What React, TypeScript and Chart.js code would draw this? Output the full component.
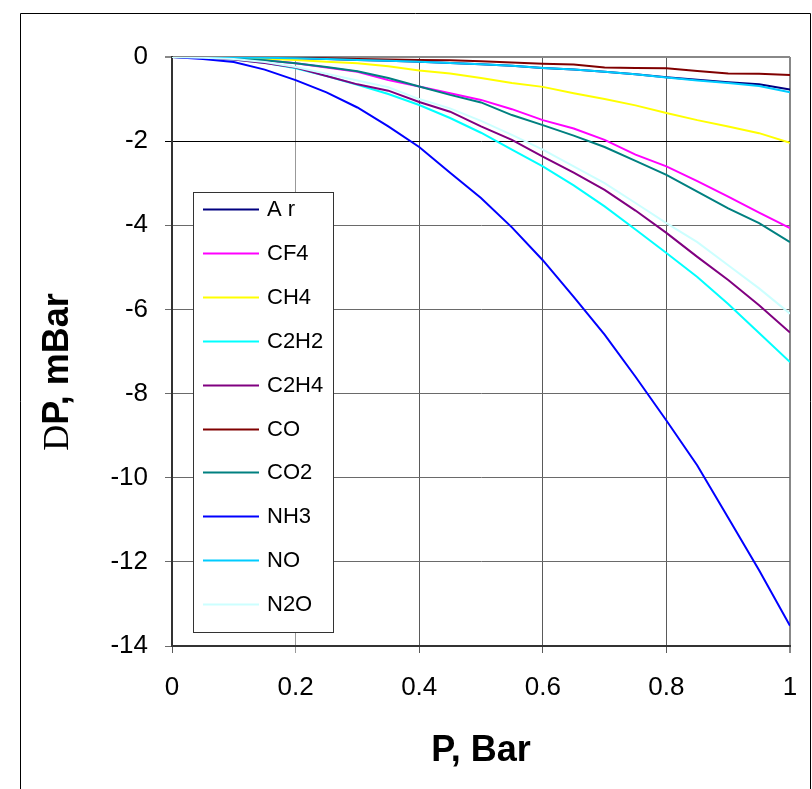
import React, { useEffect, useRef } from 'react';
import { Chart, registerables } from 'chart.js';

Chart.register(...registerables);

// ---- Data ----
const pressures = [0, 0.05, 0.1, 0.15, 0.2, 0.25, 0.3, 0.35, 0.4, 0.45, 0.5, 0.55, 0.6, 0.65, 0.7, 0.75, 0.8, 0.85, 0.9, 0.95, 1.0];

const seriesNames = ['A r', 'CF4', 'CH4', 'C2H2', 'C2H4', 'CO', 'CO2', 'NH3', 'NO', 'N2O'];
const seriesColors = ['#000080', '#FF00FF', '#FFFF00', '#00FFFF', '#800080', '#800000', '#008080', '#0000FF', '#00CCFF', '#CCFFFF'];

const ar = [0, 0, -0.01, -0.02, -0.03, -0.05, -0.07, -0.09, -0.11, -0.14, -0.17, -0.21, -0.26, -0.3, -0.35, -0.41, -0.48, -0.54, -0.6, -0.65, -0.77];
const cf4 = [0, -0.01, -0.03, -0.08, -0.15, -0.25, -0.35, -0.55, -0.7, -0.86, -1.02, -1.24, -1.5, -1.7, -1.97, -2.32, -2.6, -2.95, -3.32, -3.7, -4.07];
const ch4 = [0, -0.01, -0.02, -0.04, -0.07, -0.11, -0.15, -0.22, -0.32, -0.39, -0.5, -0.62, -0.71, -0.86, -1.0, -1.15, -1.33, -1.5, -1.65, -1.81, -2.04];
const c2h2 = [0, -0.02, -0.06, -0.14, -0.27, -0.45, -0.66, -0.88, -1.14, -1.45, -1.8, -2.2, -2.6, -3.05, -3.55, -4.1, -4.66, -5.23, -5.87, -6.56, -7.25];
const c2h4 = [0, -0.02, -0.06, -0.14, -0.25, -0.45, -0.65, -0.8, -1.07, -1.3, -1.65, -1.97, -2.37, -2.75, -3.16, -3.65, -4.18, -4.75, -5.3, -5.9, -6.55];
const co = [0, 0, 0, 0, -0.01, -0.03, -0.05, -0.06, -0.07, -0.08, -0.1, -0.13, -0.16, -0.18, -0.25, -0.26, -0.27, -0.33, -0.39, -0.4, -0.43];
const co2 = [0, -0.01, -0.03, -0.08, -0.15, -0.24, -0.34, -0.5, -0.7, -0.9, -1.08, -1.38, -1.62, -1.87, -2.14, -2.47, -2.8, -3.2, -3.6, -3.95, -4.4];
const nh3 = [0, -0.05, -0.12, -0.3, -0.55, -0.84, -1.2, -1.65, -2.14, -2.75, -3.35, -4.05, -4.83, -5.7, -6.6, -7.6, -8.64, -9.71, -10.95, -12.2, -13.52];
const no = [0, 0, -0.01, -0.02, -0.03, -0.05, -0.07, -0.09, -0.11, -0.14, -0.17, -0.21, -0.26, -0.3, -0.35, -0.41, -0.49, -0.56, -0.62, -0.69, -0.84];
const n2o = [0, -0.02, -0.05, -0.12, -0.24, -0.4, -0.56, -0.72, -1.0, -1.22, -1.52, -1.85, -2.2, -2.6, -3.0, -3.47, -3.95, -4.4, -4.95, -5.5, -6.1];

const seriesValues = [ar, cf4, ch4, c2h2, c2h4, co, co2, nh3, no, n2o];

const xTickLabels = ['0', '0.2', '0.4', '0.6', '0.8', '1'];
const yTickLabels = ['-14', '-12', '-10', '-8', '-6', '-4', '-2', '0'];

const xTitle = 'P, Bar';
const yTitleSymbol = 'D';
const yTitleRest = 'P, mBar';

const FONT = "'Liberation Sans', Arial, sans-serif";
const SERIF = "'Liberation Serif', 'Times New Roman', serif";

const framePlugin = {
  id: 'frame',
  beforeDraw(chart: any) {
    const { ctx, width, height } = chart;
    ctx.save();
    ctx.fillStyle = '#ffffff';
    ctx.fillRect(0, 0, width, height);
    ctx.strokeStyle = '#000000';
    ctx.lineWidth = 1;
    ctx.beginPath();
    ctx.moveTo(20.5, height + 5);
    ctx.lineTo(20.5, 13.5);
    ctx.lineTo(810.5, 13.5);
    ctx.lineTo(810.5, height + 5);
    ctx.stroke();
    ctx.restore();
  },
};

const yTitlePlugin = {
  id: 'yTitle',
  afterDraw(chart: any) {
    const { ctx } = chart;
    ctx.save();
    ctx.translate(58, 372);
    ctx.rotate(-Math.PI / 2);
    ctx.textBaseline = 'middle';
    ctx.textAlign = 'left';
    const symFont = `36px ${SERIF}`;
    const restFont = `bold 36px ${FONT}`;
    ctx.font = symFont;
    const w1 = ctx.measureText(yTitleSymbol).width;
    ctx.font = restFont;
    const w2 = ctx.measureText(yTitleRest).width;
    const start = -(w1 + w2) / 2;
    ctx.fillStyle = '#000000';
    ctx.font = symFont;
    ctx.fillText(yTitleSymbol, start, 1);
    ctx.font = restFont;
    ctx.fillText(yTitleRest, start + w1, 0);
    ctx.restore();
  },
};

const legendPlugin = {
  id: 'boxLegend',
  afterDraw(chart: any) {
    const { ctx, chartArea } = chart;
    const left = chartArea.left + 21;
    const top = chartArea.top + 135;
    const w = 140;
    const h = 440;
    ctx.save();
    ctx.fillStyle = '#ffffff';
    ctx.fillRect(left, top, w, h);
    ctx.strokeStyle = '#333333';
    ctx.lineWidth = 1;
    ctx.strokeRect(left + 0.5, top + 0.5, w, h);
    ctx.font = `22px ${FONT}`;
    ctx.textBaseline = 'middle';
    ctx.textAlign = 'left';
    chart.data.datasets.forEach((ds: any, i: number) => {
      const y = top + 17 + i * 43.9;
      ctx.strokeStyle = ds.borderColor;
      ctx.lineWidth = 2;
      ctx.beginPath();
      ctx.moveTo(left + 10, Math.round(y) + 0.5);
      ctx.lineTo(left + 66, Math.round(y) + 0.5);
      ctx.stroke();
      ctx.fillStyle = '#000000';
      ctx.fillText(ds.label, left + 74, y + 1);
    });
    ctx.restore();
  },
};

export default function App() {
  const canvasRef = useRef<HTMLCanvasElement | null>(null);

  useEffect(() => {
    const canvas = canvasRef.current;
    if (!canvas) return;
    const n = seriesNames.length;
    const datasets = seriesNames.map((name, i) => ({
      label: name,
      data: pressures.map((p, j) => ({ x: p, y: seriesValues[i][j] })),
      borderColor: seriesColors[i],
      backgroundColor: seriesColors[i],
      borderWidth: 2,
      pointRadius: 0,
      tension: 0,
      fill: false,
      order: n - i,
    }));

    const chart = new Chart(canvas, {
      type: 'line',
      data: { datasets },
      plugins: [framePlugin, legendPlugin, yTitlePlugin],
      options: {
        animation: false,
        responsive: false,
        maintainAspectRatio: false,
        layout: { padding: { left: 0, top: 57, right: 22, bottom: 0 } },
        plugins: {
          legend: { display: false },
          tooltip: { enabled: false },
          title: { display: false },
        },
        scales: {
          x: {
            type: 'linear',
            min: 0,
            max: 1,
            afterFit: (scale: any) => {
              scale.height = 143;
              scale.paddingLeft = 0;
              scale.paddingRight = 0;
            },
            afterBuildTicks: (scale: any) => {
              scale.ticks = xTickLabels.map((t) => ({ value: parseFloat(t) }));
            },
            ticks: {
              callback: (_v: any, i: number) => xTickLabels[i],
              color: '#000000',
              font: { family: FONT, size: 26 },
              padding: 19,
              maxRotation: 0,
              autoSkip: false,
            },
            grid: {
              color: (c: any) => {
                const v = c.tick ? c.tick.value : 0;
                if (Math.abs(v - 1) < 1e-6) return '#888888';
                if (Math.abs(v - 0.2) < 1e-6) return '#999999';
                return '#5a5a5a';
              },
              lineWidth: (c: any) => {
                const v = c.tick ? c.tick.value : 0;
                return Math.abs(v - 1) < 1e-6 ? 2 : 1;
              },
              tickLength: 7,
              drawTicks: true,
            },
            border: { display: true, color: '#333333', width: 2 },
            title: {
              display: true,
              text: xTitle,
              color: '#000000',
              font: { family: FONT, size: 36, weight: 'bold' },
              padding: { top: 0, bottom: 16 },
            },
          },
          y: {
            type: 'linear',
            min: -14,
            max: 0,
            afterFit: (scale: any) => { scale.width = 172; },
            afterBuildTicks: (scale: any) => {
              scale.ticks = yTickLabels.map((t) => ({ value: parseFloat(t) }));
            },
            ticks: {
              callback: (_v: any, i: number) => yTickLabels[i],
              color: '#000000',
              font: { family: FONT, size: 26 },
              padding: 17,
              autoSkip: false,
            },
            grid: {
              color: (c: any) => {
                const v = c.tick ? c.tick.value : 0;
                if (v === 0) return '#888888';
                if (v === -2) return '#000000';
                return '#6a6a6a';
              },
              lineWidth: (c: any) => {
                const v = c.tick ? c.tick.value : 0;
                return v === 0 ? 2 : 1;
              },
              tickLength: 7,
              drawTicks: true,
            },
            border: { display: true, color: '#333333', width: 2 },
            title: { display: false },
          },
        },
      },
    });

    return () => {
      chart.destroy();
    };
  }, []);

  return (
    <div style={{ position: 'absolute', left: 0, top: 0, width: 812, height: 789, background: '#ffffff' }}>
      <canvas ref={canvasRef} width={812} height={789} style={{ display: 'block' }} />
    </div>
  );
}
